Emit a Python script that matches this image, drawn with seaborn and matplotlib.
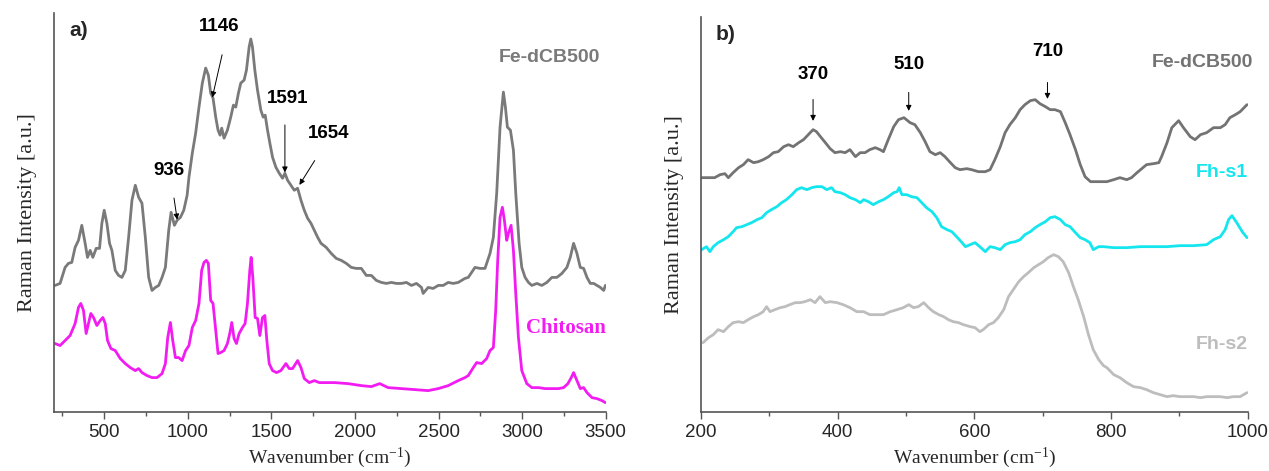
import numpy as np
import pandas as pd
import matplotlib
matplotlib.use('Agg')
import matplotlib.pyplot as plt
from matplotlib.ticker import MultipleLocator
import seaborn as sns

# ---- data (wavenumber in cm-1, intensity in a.u.) ----
# panel a) Fe-dCB500
fe_a_wn = [206, 236, 266, 286, 306, 326, 346, 366, 386, 400, 416, 432, 452, 472, 486, 500, 516, 532, 546, 566,
           586, 606, 626, 646, 666, 686, 706, 726, 746, 766, 786, 806, 826, 846, 866, 886, 900, 920, 936, 956,
           976, 996, 1007, 1027, 1047, 1067, 1087, 1107, 1123, 1137, 1151, 1167, 1181, 1193, 1203, 1217, 1237,
           1257, 1273, 1287, 1303, 1317, 1337, 1351, 1367, 1377, 1387, 1401, 1417, 1437, 1451, 1463, 1477, 1491,
           1507, 1527, 1547, 1567, 1581, 1597, 1617, 1637, 1657, 1677, 1697, 1717, 1737, 1757, 1777, 1797, 1828,
           1858, 1888, 1918, 1948, 1978, 2008, 2038, 2068, 2098, 2128, 2158, 2188, 2218, 2248, 2278, 2308, 2338,
           2368, 2398, 2408, 2438, 2468, 2498, 2528, 2558, 2588, 2618, 2658, 2678, 2718, 2748, 2778, 2808, 2828,
           2848, 2868, 2888, 2900, 2912, 2930, 2948, 2962, 2982, 2998, 3018, 3038, 3058, 3088, 3118, 3148, 3178,
           3208, 3238, 3268, 3288, 3308, 3328, 3348, 3368, 3388, 3408, 3428, 3448, 3468, 3488, 3498]
fe_a_int = [122, 124, 140, 144, 145, 160, 167, 182, 164, 150, 157, 150, 159, 159, 184, 197, 184, 164, 157, 137,
            132, 130, 137, 170, 207, 222, 210, 204, 170, 130, 117, 120, 122, 130, 140, 177, 195, 182, 187, 190,
            197, 212, 230, 254, 274, 300, 324, 339, 332, 314, 309, 290, 277, 272, 279, 269, 277,
            290, 302, 300, 314, 324, 327, 337, 360, 368, 360, 337, 317, 297, 290, 292, 277, 264,
            250, 240, 234, 229, 234, 227, 222, 217, 219, 207, 197, 189, 184, 177, 170, 164, 160,
            154, 149, 147, 144, 140, 139, 139, 132, 132, 127, 125, 124, 125, 124, 124, 125, 122,
            124, 120, 114, 120, 119, 122, 122, 125, 124, 125, 129, 130, 140, 139, 139, 154, 170,
            214, 280, 315, 300, 280, 277, 257, 214, 164, 140, 130, 125, 122, 124, 122, 125, 130,
            130, 134, 140, 150, 164, 154, 140, 139, 130, 124, 124, 122, 120, 117, 122]

# panel a) Chitosan
chit_wn = [206, 236, 266, 296, 326, 346, 360, 376, 392, 406, 420, 436, 456, 476, 492, 506, 520, 540, 566, 596,
           626, 656, 686, 706, 726, 756, 786, 816, 846, 866, 880, 896, 910, 926, 946, 966, 987, 1007, 1027, 1047,
           1067, 1083, 1097, 1111, 1123, 1137, 1151, 1167, 1181, 1197, 1217, 1237, 1251, 1263, 1277, 1291, 1307,
           1327, 1343, 1357, 1371, 1379, 1389, 1403, 1417, 1431, 1447, 1461, 1473, 1487, 1507, 1531, 1557, 1587,
           1607, 1627, 1657, 1677, 1697, 1727, 1757, 1787, 1838, 1878, 1958, 2038, 2098, 2148, 2198, 2278, 2358,
           2438, 2498, 2558, 2618, 2658, 2678, 2708, 2728, 2758, 2788, 2808, 2828, 2842, 2854, 2868, 2882, 2894,
           2908, 2918, 2934, 2948, 2962, 2978, 2998, 3028, 3058, 3098, 3138, 3178, 3218, 3248, 3274, 3294, 3308,
           3328, 3348, 3368, 3388, 3418, 3448, 3478, 3498]
chit_int = [64, 62, 67, 72, 84, 100, 104, 97, 74, 84, 94, 90, 82, 87, 90, 84, 67, 59, 57, 49,
            44, 40, 37, 39, 35, 32, 30, 30, 34, 44, 70, 85, 67, 50, 50, 47, 57, 62, 80, 87,
            104, 137, 145, 147, 144, 107, 104, 77, 54, 55, 57, 64, 74, 85, 69, 64, 74,
            80, 84, 104, 137, 150, 130, 90, 89, 72, 90, 92, 67, 44, 37, 35, 37, 44,
            39, 39, 47, 40, 29, 25, 27, 25, 25, 25, 24, 22, 21, 24, 20, 19, 18,
            17, 19, 22, 27, 30, 32, 40, 45, 44, 49, 57, 60, 97, 147, 190, 200, 187,
            167, 174, 182, 157, 114, 70, 37, 24, 20, 20, 19, 19, 19, 20, 24, 30, 35,
            27, 19, 20, 15, 10, 9, 7, 5]

# panel b) Fe-dCB500
fe_b_wn = [201, 211, 220, 228, 235, 240, 247, 255, 262, 269, 277, 284, 291, 299, 306, 313, 321, 328, 335, 343,
           350, 357, 364, 369, 376, 382, 389, 396, 404, 411, 418, 426, 433, 440, 447, 455, 462, 467, 474, 482,
           489, 497, 506, 513, 521, 528, 535, 543, 550, 557, 565, 572, 579, 589, 596, 606, 616, 623, 630, 638,
           645, 652, 660, 667, 674, 682, 689, 696, 704, 711, 718, 726, 733, 740, 748, 755, 762, 770, 777, 787,
           794, 804, 813, 823, 830, 838, 845, 852, 862, 870, 874, 882, 889, 899, 906, 916, 923, 931, 940, 950,
           960, 967, 974, 982, 989, 999]
fe_b_int = [229, 229, 229, 232, 233, 229, 234, 239, 242, 247, 244, 245, 247, 250, 254, 255, 260, 262, 260, 264,
            267, 272, 277, 275, 269, 264, 258, 254, 255, 254, 257, 250, 254, 254, 257, 259, 257, 255, 267, 280,
            287, 289, 284, 282, 274, 265, 255, 252, 254, 250, 244, 239, 237, 238, 237, 235, 235, 237, 247, 260,
            274, 282, 289, 297, 302, 306, 307, 303, 300, 297, 297, 295, 284, 272, 257, 242, 230, 225, 225, 225,
            225, 227, 229, 227, 229, 234, 238, 242, 243, 244, 250, 264, 279, 286, 279, 270, 267, 272, 274, 279,
            279, 282, 289, 292, 295, 302]

# panel b) Fh-s1
fhs1_wn = [201, 208, 213, 218, 225, 233, 240, 247, 252, 260, 267, 274, 282, 289, 296, 303, 311, 318, 325, 333,
           340, 347, 355, 362, 369, 377, 384, 391, 396, 404, 411, 418, 426, 433, 438, 445, 452, 460, 467, 474,
           482, 487, 490, 494, 501, 508, 516, 523, 530, 538, 545, 552, 560, 567, 574, 582, 587, 594, 601, 608,
           616, 623, 630, 638, 645, 652, 660, 667, 674, 682, 689, 696, 704, 711, 718, 726, 733, 740, 748, 755,
           762, 769, 774, 782, 789, 804, 823, 843, 862, 882, 901, 921, 940, 950, 960, 967, 972, 977, 984, 992, 999]
fhs1_int = [157, 160, 155, 160, 164, 167, 170, 175, 179, 180, 182, 184, 187, 189, 194, 197, 200, 204, 207, 212,
            217, 219, 217, 219, 220, 220, 217, 219, 215, 214, 212, 209, 207, 204, 207, 205, 202, 205, 207, 210,
            214, 215, 219, 212, 212, 210, 209, 204, 199, 195, 189, 180, 177, 175, 170, 164, 160, 162, 164, 160,
            155, 160, 159, 157, 162, 164, 165, 167, 172, 175, 179, 182, 185, 189, 190, 187, 182, 180, 174, 169,
            167, 164, 157, 160, 160, 159, 159, 160, 160, 160, 161, 161, 162, 167, 170, 177, 187, 191, 184, 175, 169]

# panel b) Fh-s2
fhs2_wn = [203, 211, 218, 225, 233, 240, 247, 255, 262, 269, 277, 284, 291, 296, 301, 308, 316, 323, 330, 338,
           345, 352, 360, 367, 374, 382, 389, 399, 408, 418, 428, 438, 447, 457, 467, 477, 487, 496, 504, 511,
           518, 526, 533, 540, 548, 555, 562, 569, 577, 584, 594, 601, 608, 613, 621, 628, 635, 643, 650, 657,
           665, 672, 679, 687, 694, 701, 708, 716, 723, 730, 738, 745, 752, 760, 767, 774, 782, 789, 794, 804,
           813, 823, 833, 843, 852, 862, 872, 882, 891, 901, 911, 921, 931, 940, 950, 960, 970, 979, 989, 999]
fhs2_int = [64, 69, 72, 77, 75, 80, 84, 85, 84, 87, 90, 92, 95, 100, 95, 97, 99, 100, 102, 104,
            104, 105, 107, 104, 110, 104, 105, 104, 102, 99, 95, 95, 92, 92, 92, 95, 97, 99, 102, 99,
            100, 104, 99, 95, 92, 90, 87, 85, 84, 82, 80, 79, 75, 77, 82, 84, 89, 97, 110, 117,
            125, 130, 134, 139, 142, 145, 149, 152, 150, 145, 134, 120, 107, 90, 72, 57, 47, 41, 39, 32,
            29, 24, 20, 19, 17, 14, 12, 10, 11, 10, 10, 10, 9, 10, 10, 10, 9, 10, 10, 14]

sns.set_style('ticks')
plt.rcParams['font.family'] = ['Liberation Sans', 'DejaVu Sans']
plt.rcParams['mathtext.fontset'] = 'custom'
plt.rcParams['mathtext.rm'] = 'Liberation Serif'
plt.rcParams['mathtext.it'] = 'Liberation Serif:italic'

fig = plt.figure(figsize=(12.69, 4.71), dpi=100)
ax_a = fig.add_axes([0.0426, 0.126, 0.4347, 0.8465])
ax_b = fig.add_axes([0.5524, 0.126, 0.4308, 0.8386])

spine_col = '#555555'
lw = 2.0

def draw(ax, wn, inten, color):
    df = pd.DataFrame({'wn': wn, 'int': inten})
    sns.lineplot(data=df, x='wn', y='int', ax=ax, color=color, lw=lw, sort=False, estimator=None)

draw(ax_a, fe_a_wn, fe_a_int, '#7a7a7a')
draw(ax_a, chit_wn, chit_int, '#f21cf2')
draw(ax_b, fe_b_wn, fe_b_int, '#737373')
draw(ax_b, fhs1_wn, fhs1_int, '#14e6ee')
draw(ax_b, fhs2_wn, fhs2_int, '#bdbdbd')

ax_a.set_xlim(200, 3500)
ax_a.set_ylim(-4, 394)
ax_a.xaxis.set_major_locator(MultipleLocator(500))
ax_a.xaxis.set_minor_locator(MultipleLocator(250))
ax_b.set_xlim(200, 1000)
ax_b.set_ylim(-5, 390)
ax_b.xaxis.set_major_locator(MultipleLocator(200))
ax_b.xaxis.set_minor_locator(MultipleLocator(100))

for ax in (ax_a, ax_b):
    sns.despine(ax=ax)
    ax.set_yticks([])
    for s in ('left', 'bottom'):
        ax.spines[s].set_color(spine_col)
        ax.spines[s].set_linewidth(1.2)
    ax.tick_params(axis='x', which='major', direction='out', length=5, width=1, color=spine_col,
                   labelsize=13.5, pad=4)
    ax.tick_params(axis='x', which='minor', direction='out', length=3, width=1, color=spine_col)
    ax.set_xlabel(r'Wavenumber (cm$^{-1}$)', family='Liberation Serif', fontsize=14, labelpad=3)
    ax.set_ylabel('Raman Intensity [a.u.]', family='Liberation Serif', fontsize=16, labelpad=12)

bold = dict(fontweight='bold', fontsize=13.5, color='black', ha='center', va='center')
arr = dict(arrowstyle='-|>', color='black', lw=0.7, mutation_scale=8)

# panel a) annotations
ax_a.text(0.045, 0.955, 'a)', transform=ax_a.transAxes, fontweight='bold', fontsize=15, va='center', ha='center')
ax_a.text(885, 237, '936', **bold)
ax_a.annotate('', xy=(939, 185), xytext=(915, 212), arrowprops=arr)
ax_a.text(1185, 380, '1146', **bold)
ax_a.annotate('', xy=(1143, 307), xytext=(1209, 355), arrowprops=arr)
ax_a.text(1600, 309, '1591', **bold)
ax_a.annotate('', xy=(1581, 232), xytext=(1581, 285), arrowprops=arr)
ax_a.text(1840, 274, '1654', **bold)
ax_a.annotate('', xy=(1659, 220), xytext=(1768, 249), arrowprops=arr)
ax_a.text(3162, 350, 'Fe-dCB500', fontweight='bold', fontsize=14, color='#7a7a7a', ha='center', va='center')
ax_a.text(3263, 80, 'Chitosan', family='Liberation Serif', fontweight='bold', fontsize=15,
          color='#f21cf2', ha='center', va='center')

# panel b) annotations
ax_b.text(0.045, 0.955, 'b)', transform=ax_b.transAxes, fontweight='bold', fontsize=15, va='center', ha='center')
ax_b.text(364, 332, '370', **bold)
ax_b.annotate('', xy=(364, 283), xytext=(364, 310), arrowprops=arr)
ax_b.text(504, 342, '510', **bold)
ax_b.annotate('', xy=(504, 293), xytext=(504, 317), arrowprops=arr)
ax_b.text(707, 355, '710', **bold)
ax_b.annotate('', xy=(707, 305), xytext=(707, 327), arrowprops=arr)
ax_b.text(1.01, 0.885, 'Fe-dCB500', transform=ax_b.transAxes, fontweight='bold', fontsize=14,
          color='#737373', ha='right', va='center')
ax_b.text(1.0, 0.605, 'Fh-s1', transform=ax_b.transAxes, fontweight='bold', fontsize=14,
          color='#14e6ee', ha='right', va='center')
ax_b.text(1.0, 0.17, 'Fh-s2', transform=ax_b.transAxes, fontweight='bold', fontsize=14,
          color='#bdbdbd', ha='right', va='center')

fig.savefig('out.png', dpi=100)
